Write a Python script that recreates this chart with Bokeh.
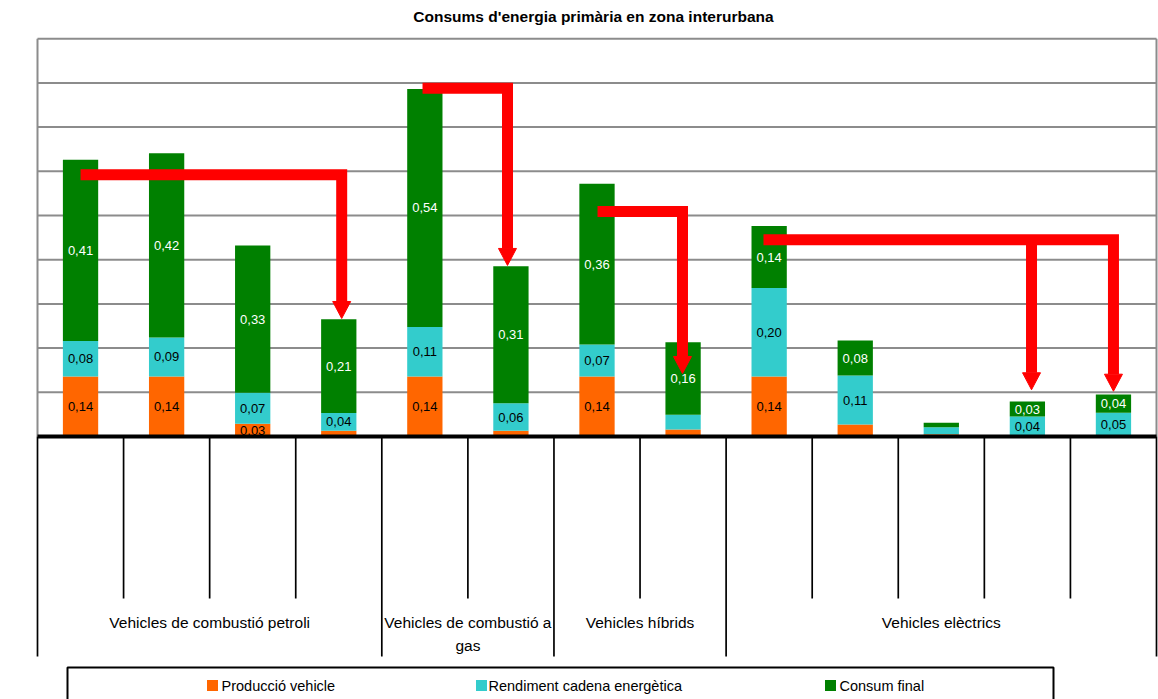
from bokeh.plotting import figure
from bokeh.models import Range1d, ColumnDataSource
from bokeh.core.properties import value
from bokeh.embed import file_html
from bokeh.resources import INLINE

# ---------------- data ----------------
title = "Consums d'energia primària en zona interurbana"
groups = ["Vehicles de combustió petroli", "Vehicles de combustió a\ngas",
          "Vehicles híbrids", "Vehicles elèctrics"]
group_sizes = [4, 2, 2, 5]
series = ["Producció vehicle", "Rendiment cadena energètica", "Consum final"]
colors = ["#FF6600", "#33CCCC", "#008000"]
label_colors = ["#000000", "#000000", "#FFFFFF"]

produccio = [0.136, 0.136, 0.029, 0.013, 0.136, 0.013, 0.136, 0.016, 0.136, 0.027, 0.005, 0.002, 0.002]
rendiment = [0.080, 0.088, 0.070, 0.040, 0.112, 0.062, 0.072, 0.033, 0.200, 0.111, 0.016, 0.043, 0.052]
consum    = [0.410, 0.417, 0.333, 0.212, 0.538, 0.310, 0.364, 0.164, 0.140, 0.079, 0.010, 0.034, 0.041]
hidden_labels = [(1, 7)]          # (series index, bar index) labels not shown
label_min = 0.029

y_ticks = [0.1, 0.2, 0.3, 0.4, 0.5, 0.6, 0.7, 0.8, 0.9]

# arrows: horizontal level, start x, list of (end x, tip y)   (category-index units)
arrows = [
    (0.592, 0.50, [(3.534, 0.267)]),
    (0.788, 4.473, [(5.460, 0.387)]),
    (0.509, 6.506, [(7.493, 0.1425)]),
    (0.445, 8.434, [(12.50, 0.1025), (11.548, 0.1057)]),
]

# ---------------- geometry helpers ----------------
n = len(produccio)
XU = 1119.0 / n       # px per category
YU = 442.0            # px per unit
def dx(px):
    return (px - 37.0) / XU
def dy(py):
    return (436.0 - py) / YU

p = figure(width=1158, height=699, min_border=0, toolbar_location=None,
           output_backend="svg", x_axis_location=None, y_axis_location=None,
           x_range=Range1d(dx(0), dx(1158)), y_range=Range1d(dy(699), dy(0)),
           outline_line_color=None, background_fill_color="white",
           border_fill_color="white")
p.xgrid.visible = False
p.ygrid.visible = False

FONT = "Liberation Sans"

# gridlines + frame
p.segment(x0=[0] * len(y_ticks), x1=[n] * len(y_ticks), y0=y_ticks, y1=y_ticks,
          line_color="#8c8c8c", line_width=2)
p.segment(x0=[0, n], x1=[0, n], y0=[0, 0], y1=[y_ticks[-1]] * 2,
          line_color="#8c8c8c", line_width=2)

# stacked bars
xs = [i + 0.5 for i in range(n)]
src = ColumnDataSource(dict(x=xs, a=produccio, b=rendiment, c=consum))
p.vbar_stack(["a", "b", "c"], x="x", width=0.41, source=src, color=colors,
             line_color=None)

# value labels
lx, ly, lt, lc = [], [], [], []
vals = [produccio, rendiment, consum]
for i in range(n):
    base = 0.0
    for s in range(3):
        v = vals[s][i]
        if v >= label_min and (s, i) not in hidden_labels:
            lx.append(xs[i]); ly.append(base + v / 2)
            lt.append(("%.2f" % v).replace(".", ","))
            lc.append(label_colors[s])
        base += v
p.text(x=lx, y=ly, text=lt, text_color=lc, text_font=value(FONT),
       text_font_size="13px", text_align="center", text_baseline="middle")

# category axis table
inner = [k for k in range(1, n)]
gb = [0]
for g in group_sizes:
    gb.append(gb[-1] + g)
inner = [k for k in inner if k not in gb]
p.segment(x0=inner, x1=inner, y0=[0] * len(inner), y1=[dy(598)] * len(inner),
          line_color="black", line_width=1.7)
p.segment(x0=gb, x1=gb, y0=[0] * len(gb), y1=[dy(656)] * len(gb),
          line_color="black", line_width=1.7)
p.segment(x0=[0], x1=[n], y0=[0], y1=[0], line_color="black", line_width=4)

gx, gy, gt = [], [], []
for k, name in enumerate(groups):
    cx = (gb[k] + gb[k + 1]) / 2
    for j, line in enumerate(name.split("\n")):
        gx.append(cx); gy.append(dy(622 + 23 * j)); gt.append(line)
p.text(x=gx, y=gy, text=gt, text_font=value(FONT), text_font_size="15.5px",
       text_align="center", text_baseline="middle", text_color="black")

# red arrows
hw = 9.0 / XU
hh = 17.0 / YU
mx, my, px_, py_ = [], [], [], []
for lvl, x0, ends in arrows:
    xe, tip = ends[0]
    mx.append([x0, xe, xe]); my.append([lvl, lvl, tip + hh])
    for xe2, tip2 in ends[1:]:
        mx.append([xe2, xe2]); my.append([lvl, tip2 + hh])
    for xe2, tip2 in ends:
        px_.append([xe2 - hw, xe2 + hw, xe2]); py_.append([tip2 + hh, tip2 + hh, tip2])
p.multi_line(xs=mx, ys=my, line_color="#FF0000", line_width=11, line_join="miter")
p.patches(xs=px_, ys=py_, fill_color="#FF0000", line_color="#FF0000", line_width=1)

# title
p.text(x=[dx(593)], y=[dy(16)], text=[title], text_font=value(FONT),
       text_font_style="bold", text_font_size="15.5px", text_align="center",
       text_baseline="middle", text_color="black")

# legend
p.quad(left=[dx(67)], right=[dx(1053)], top=[dy(667)], bottom=[dy(720)],
       fill_color=None, line_color="black", line_width=2)
leg_sq = [212, 481, 830]
leg_tx = [221, 488, 839]
p.scatter(x=[dx(v) for v in leg_sq], y=[dy(685)] * 3, marker="square", size=11,
          fill_color=colors, line_color=None)
p.text(x=[dx(v) for v in leg_tx], y=[dy(685)] * 3, text=series,
       text_font=value(FONT), text_font_size="14.5px",
       text_align="left", text_baseline="middle", text_color="black")

open("out.html", "w").write(file_html(p, INLINE))
